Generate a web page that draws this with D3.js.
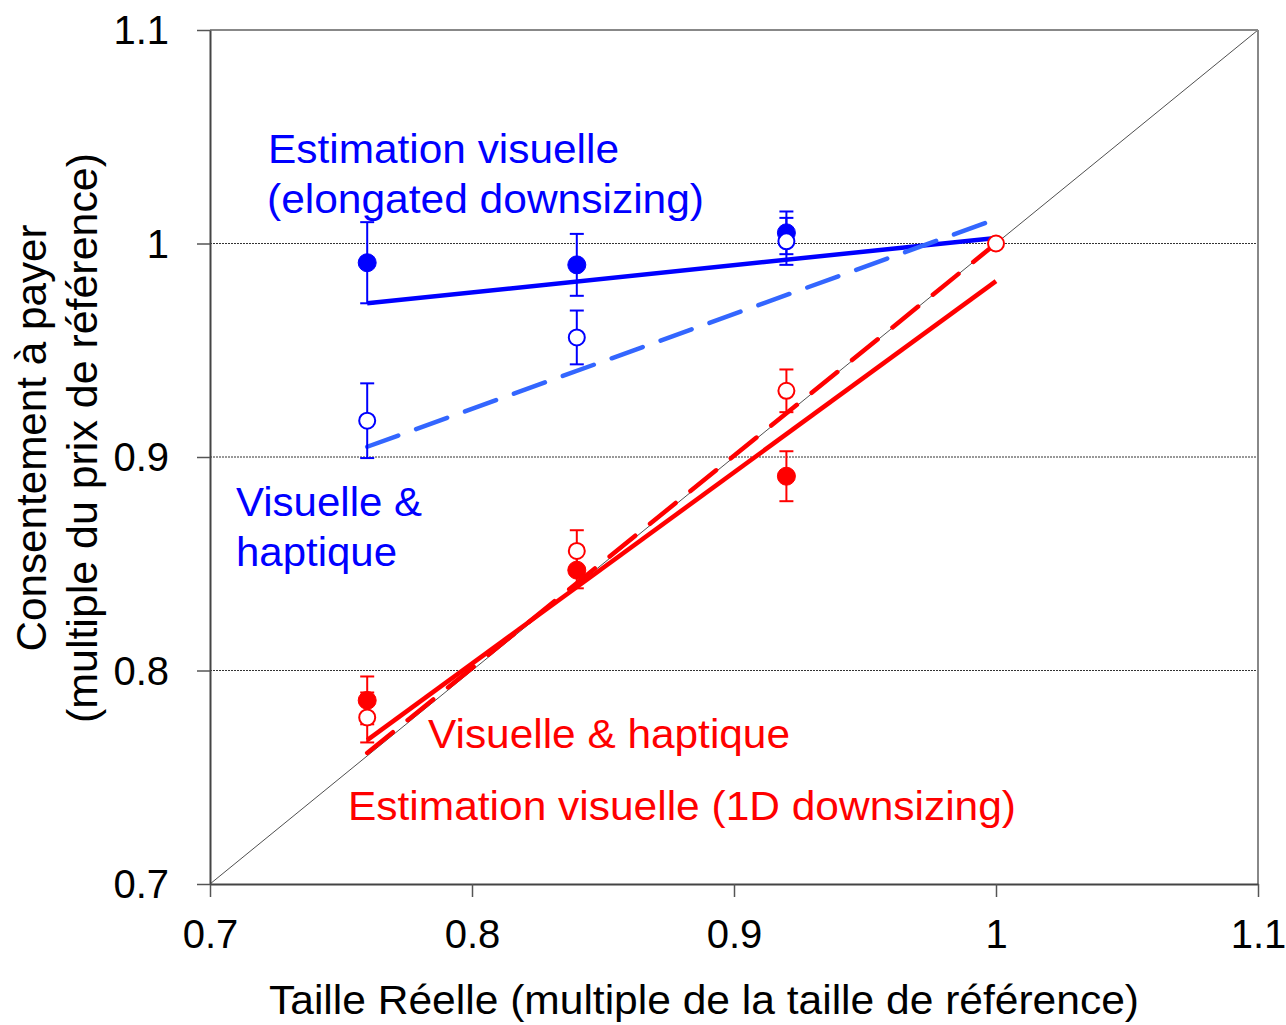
<!DOCTYPE html>
<html>
<head>
<meta charset="utf-8">
<script src="https://cdn.jsdelivr.net/npm/d3@7"></script>
<style>
  html, body { margin: 0; padding: 0; background: #fff; }
  svg { display: block; font-family: "Liberation Sans", Arial, sans-serif; }
</style>
</head>
<body>
<svg id="chart" width="1286" height="1025"></svg>
<script>
// Relative size (x) and willingness to pay (y), both as multiples of the reference
const sizes = [0.76, 0.84, 0.92];

// Blue: elongated downsizing
const blueVisualMean = [0.991, 0.990, 1.005];
const blueVisualErr  = [0.019, 0.0145, 0.010];
const blueHapticMean = [0.917, 0.956, 1.001];
const blueHapticErr  = [0.0175, 0.0126, 0.011];

// Red: 1D downsizing
const redVisualMean = [0.786, 0.847, 0.891];
const redVisualErr  = [0.0112, 0.0085, 0.0117];
const redHapticMean = [0.778, 0.856, 0.931];
const redHapticErr  = [0.0117, 0.0097, 0.010];

// Fitted lines (start and end points)
const blueVisualFit = [[0.76, 0.972], [1.0, 1.0026]];
const blueHapticFit = [[0.76, 0.9048], [0.996, 1.0096]];
const redVisualFit  = [[0.76, 0.7674], [1.0, 0.9824]];
const redHapticFit  = [[0.76, 0.7614], [1.0, 1.0]];

// Reference product
const referencePoint = [1.0, 1.0];

const xTicks = [0.7, 0.8, 0.9, 1.0, 1.1];
const yTicks = [0.7, 0.8, 0.9, 1.0, 1.1];
const gridValues = [0.8, 0.9, 1.0];

const svg = d3.select("#chart");
const plotLeft = 210, plotRight = 1258, plotTop = 30, plotBottom = 884;

const x = d3.scaleLinear().domain([0.7, 1.1]).range([plotLeft, plotRight]);
const y = d3.scaleLinear().domain([0.7, 1.1]).range([plotBottom, plotTop]);

const fmt = v => (v === 1 ? "1" : d3.format(".1f")(v));

// Dotted horizontal gridlines
svg.append("g").selectAll("line").data(gridValues).join("line")
  .attr("x1", plotLeft).attr("x2", plotRight)
  .attr("y1", d => y(d)).attr("y2", d => y(d))
  .attr("stroke", "#333").attr("stroke-width", 1)
  .attr("stroke-dasharray", "2,1");

// Identity diagonal
svg.append("line")
  .attr("x1", x(0.7)).attr("y1", y(0.7))
  .attr("x2", x(1.1)).attr("y2", y(1.1))
  .attr("stroke", "#222").attr("stroke-width", 0.8);

// Frame: top and right in grey
svg.append("line").attr("x1", plotLeft).attr("x2", plotRight).attr("y1", plotTop).attr("y2", plotTop)
  .attr("stroke", "#888").attr("stroke-width", 2);
svg.append("line").attr("x1", plotRight).attr("x2", plotRight).attr("y1", plotTop).attr("y2", plotBottom)
  .attr("stroke", "#888").attr("stroke-width", 2);

// Axes
const xAxis = svg.append("g").attr("transform", `translate(0,${plotBottom})`)
  .call(d3.axisBottom(x).tickValues(xTicks).tickFormat(fmt).tickSizeInner(13).tickSizeOuter(0).tickPadding(23));
const yAxis = svg.append("g").attr("transform", `translate(${plotLeft},0)`)
  .call(d3.axisLeft(y).tickValues(yTicks).tickFormat(fmt).tickSizeInner(13).tickSizeOuter(0).tickPadding(28));

[xAxis, yAxis].forEach(g => {
  g.select(".domain").attr("stroke", "#444").attr("stroke-width", 2);
  g.selectAll(".tick line").attr("stroke", "#555").attr("stroke-width", 1.5);
  g.selectAll(".tick text").attr("fill", "#000")
    .style("font-family", "'Liberation Sans', Arial, sans-serif").style("font-size", "40px");
});
xAxis.selectAll(".tick text").attr("dy", "0.71em");
yAxis.selectAll(".tick text").attr("dy", "0.34em");

// Fitted lines
const line = d3.line().x(d => x(d[0])).y(d => y(d[1]));
function drawFit(pts, color, dashed) {
  svg.append("path").datum(pts)
    .attr("d", line)
    .attr("fill", "none")
    .attr("stroke", color)
    .attr("stroke-width", 4.5)
    .attr("stroke-linecap", dashed ? "round" : "butt")
    .attr("stroke-dasharray", dashed ? "33,19" : null);
}
drawFit(blueVisualFit, "#0000ff", false);
drawFit(blueHapticFit, "#3366ff", true);
drawFit(redVisualFit, "#ff0000", false);
drawFit(redHapticFit, "#ff0000", true);

// Error bars
function drawErrors(means, errs, color) {
  const g = svg.append("g").attr("stroke", color).attr("stroke-width", 2);
  sizes.forEach((s, i) => {
    const cx = x(s), lo = y(means[i] - errs[i]), hi = y(means[i] + errs[i]);
    g.append("line").attr("x1", cx).attr("x2", cx).attr("y1", lo).attr("y2", hi);
    g.append("line").attr("x1", cx - 7).attr("x2", cx + 7).attr("y1", lo).attr("y2", lo);
    g.append("line").attr("x1", cx - 7).attr("x2", cx + 7).attr("y1", hi).attr("y2", hi);
  });
}
drawErrors(blueVisualMean, blueVisualErr, "#0000ff");
drawErrors(blueHapticMean, blueHapticErr, "#0000ff");
drawErrors(redVisualMean, redVisualErr, "#ff0000");
drawErrors(redHapticMean, redHapticErr, "#ff0000");

// Points: filled for visual estimation, open for visual & haptic
function drawPoints(means, color, filled) {
  svg.append("g").selectAll("circle").data(sizes).join("circle")
    .attr("cx", d => x(d))
    .attr("cy", (d, i) => y(means[i]))
    .attr("r", filled ? 9 : 8)
    .attr("fill", filled ? color : "#fff")
    .attr("stroke", color)
    .attr("stroke-width", filled ? 1 : 2);
}
drawPoints(blueVisualMean, "#0000ff", true);
drawPoints(redVisualMean, "#ff0000", true);
drawPoints(blueHapticMean, "#0000ff", false);
drawPoints(redHapticMean, "#ff0000", false);

svg.append("circle")
  .attr("cx", x(referencePoint[0])).attr("cy", y(referencePoint[1]))
  .attr("r", 8).attr("fill", "#fff").attr("stroke", "#ff0000").attr("stroke-width", 2);

// Series labels
function label(txt, px, py, color, width) {
  svg.append("text")
    .attr("x", px).attr("y", py)
    .attr("fill", color)
    .style("font-size", "40px")
    .attr("textLength", width)
    .attr("lengthAdjust", "spacingAndGlyphs")
    .text(txt);
}
label("Estimation visuelle", 268, 163, "#0000ff", 351);
label("(elongated downsizing)", 267, 213, "#0000ff", 437);
label("Visuelle &", 236, 516, "#0000ff", 186);
label("haptique", 236, 566, "#0000ff", 161);
label("Visuelle & haptique", 428, 748, "#ff0000", 362);
label("Estimation visuelle (1D downsizing)", 348, 820, "#ff0000", 668);

// Axis titles
svg.append("text")
  .attr("x", (plotLeft + plotRight) / 2 - 30).attr("y", 1014)
  .attr("text-anchor", "middle")
  .style("font-size", "40px")
  .attr("textLength", 870).attr("lengthAdjust", "spacingAndGlyphs")
  .text("Taille Réelle (multiple de la taille de référence)");

const yTitle = svg.append("g").attr("transform", "translate(0,438) rotate(-90)");
yTitle.append("text")
  .attr("x", 0).attr("y", 46)
  .attr("text-anchor", "middle")
  .style("font-size", "42px")
  .attr("textLength", 427).attr("lengthAdjust", "spacingAndGlyphs")
  .text("Consentement à payer");
yTitle.append("text")
  .attr("x", 0).attr("y", 97)
  .attr("text-anchor", "middle")
  .style("font-size", "42px")
  .attr("textLength", 570).attr("lengthAdjust", "spacingAndGlyphs")
  .text("(multiple du prix de référence)");
</script>
</body>
</html>
